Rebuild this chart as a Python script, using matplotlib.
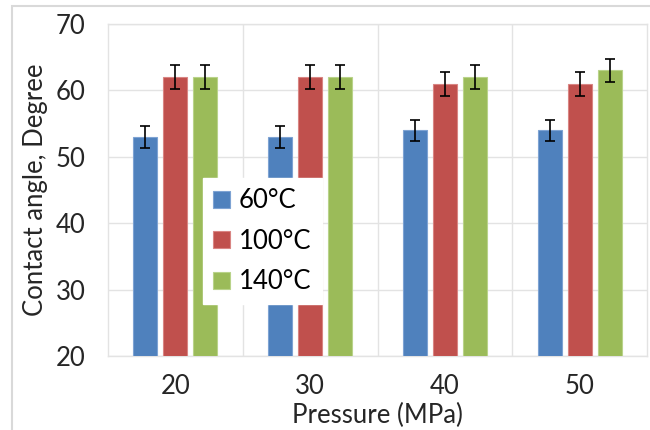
import matplotlib.pyplot as plt
import numpy as np
from matplotlib.patches import Rectangle

plt.rcParams['font.family'] = ['Lato', 'DejaVu Sans']

pressures = ['20', '30', '40', '50']
angle_60 = [53, 53, 54, 54]
angle_100 = [62, 62, 61, 61]
angle_140 = [62, 62, 62, 63]
err_60 = [1.6, 1.6, 1.6, 1.6]
err_100 = [1.8, 1.8, 1.8, 1.8]
err_140 = [1.8, 1.8, 1.8, 1.8]
series = ['60°C', '100°C', '140°C']
colors = ['#4F81BD', '#C0504D', '#9BBB59']
edges = ['#7EA3D3', '#D98583', '#B9D38A']
fs = 18.5

fig = plt.figure(figsize=(6.5, 4.3), dpi=100)
# chart frame
fig.patches.append(Rectangle((12 / 650, -0.05), 1.0, 1.05 - 6 / 430, transform=fig.transFigure,
                             facecolor='none', edgecolor='#D9D9D9', linewidth=1.5, zorder=0))
ax = fig.add_axes([108 / 650, 1 - 356 / 430, 539 / 650, 332 / 430])
ax.set_zorder(2)

x = np.arange(len(pressures))
w = 0.178
step = 0.222
vals = [angle_60, angle_100, angle_140]
errs = [err_60, err_100, err_140]
for i in range(3):
    ax.bar(x + (i - 1) * step, [v - 20 for v in vals[i]], w, bottom=20, color=colors[i],
           edgecolor=edges[i], linewidth=0.8, label=series[i], zorder=3,
           yerr=errs[i], error_kw=dict(ecolor='black', elinewidth=1.2, capsize=3.5, capthick=1.2))

ax.set_xlim(-0.5, 3.5)
ax.set_ylim(20, 70)
ax.set_yticks([20, 30, 40, 50, 60, 70])
ax.set_xticks(x)
ax.set_xticklabels(pressures)
ax.tick_params(axis='both', length=0, labelsize=fs, colors='#262626')
ax.tick_params(axis='y', pad=16)
ax.tick_params(axis='x', pad=13)
for xb in [0.5, 1.5, 2.5]:
    ax.axvline(xb, color='#E3E3E3', linewidth=1, zorder=1)
ax.grid(axis='y', color='#E3E3E3', linewidth=1, zorder=1)
ax.set_axisbelow(True)
for s in ax.spines.values():
    s.set_color('#E3E3E3')
    s.set_linewidth(1)

ax.set_xlabel('Pressure (MPa)', fontsize=fs, color='#262626', labelpad=3)
ax.set_ylabel('Contact angle, Degree', fontsize=fs, color='#262626', labelpad=6)

leg = ax.legend(loc='upper left', bbox_to_anchor=(95 / 539, 1 - 154 / 332), fontsize=fs,
                frameon=True, fancybox=False, edgecolor='white', framealpha=1,
                handlelength=0.65, handleheight=0.65, handletextpad=0.35, labelspacing=0.6,
                borderpad=0.4, borderaxespad=0)
leg.set_zorder(5)

fig.savefig('out.png', dpi=100)
